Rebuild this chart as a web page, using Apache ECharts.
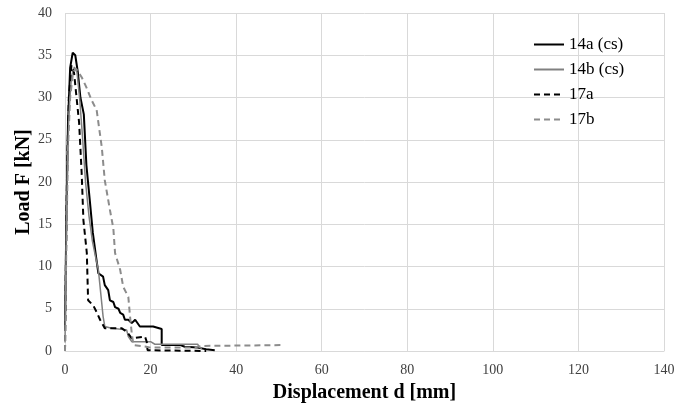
<!DOCTYPE html>
<html>
<head>
<meta charset="utf-8">
<script src="https://cdn.jsdelivr.net/npm/echarts@6/dist/echarts.min.js"></script>
<style>
  html, body { margin: 0; padding: 0; background: #fff; }
  #main { width: 675px; height: 408px; }
</style>
</head>
<body>
<div id="main"></div>
<script>
// series names
var names = ["14a (cs)", "14b (cs)", "17a", "17b"];

// displacement d [mm] / load F [kN]
var s14a = [[0,2.5],[0.3,15],[0.7,27],[1.2,33.5],[1.8,35.3],[2.4,35],[3,33],[3.6,30],[4.4,28],[5,22],[5.8,17.8],[6.5,14],[7.3,11],[7.8,9.2],[8.9,8.8],[9.3,7.8],[10.1,7.2],[10.5,6],[11.3,5.8],[11.7,5.2],[12.5,5],[12.9,4.5],[13.6,4.3],[14,3.7],[14.8,3.7],[15.6,3.3],[16.4,3.7],[17.5,2.9],[20.6,2.9],[22.6,2.6],[22.6,0.7],[27,0.7],[28,0.5],[31,0.4],[33,0.2],[35,0.1]];
var s14b = [[0,1],[0.4,18],[0.9,28],[1.5,32.5],[2.2,33.6],[2.8,33],[3.4,30],[4,26],[4.8,20],[5.6,16],[6.4,13],[7.2,11],[7.8,9.6],[8.9,4.1],[9.3,2.9],[10.9,2.7],[11,2.5],[14.4,2.5],[14.8,1.7],[15.6,1.1],[20,1.1],[21,0.8],[31,0.8],[31.5,0.4],[32,0.3]];
var s17a = [[0,0],[0.2,10],[0.5,22],[0.9,30],[1.5,33.8],[2.1,33],[2.7,30],[3.3,27],[3.9,21],[4.3,15.5],[5.1,11.6],[5.4,6],[6.6,5.4],[7.4,4.6],[8.2,3.7],[9.3,2.7],[9.5,2.5],[13.2,2.7],[14.4,2.3],[15.6,1.5],[18.7,1.7],[19.1,1.1],[19.3,0.1],[25,0.05],[33,0]];
var s17b = [[0,0],[0.3,12],[0.7,24],[1.2,30],[1.9,33],[2.6,33.4],[3.9,32.4],[5,31.2],[6.2,29.7],[7.4,28.5],[8.6,24.1],[9.3,20.2],[10.5,16.7],[11.3,14.5],[11.7,11.6],[12.9,9.6],[13.6,7.6],[14.8,6.4],[15.2,4.1],[15.6,2.1],[16,0.7],[19,0.5],[20,0.4],[30,0.4],[32,0.6],[51,0.7]];

var serif = "'Liberation Serif', 'DejaVu Serif', serif";
var myChart = echarts.init(document.getElementById("main"), null, { renderer: "canvas" });
var option;

function mk(name, data, color, width, type) {
  return {
    name: name,
    type: "line",
    data: data,
    symbol: "none",
    showSymbol: false,
    smooth: false,
    lineStyle: { color: color, width: width, type: type },
    itemStyle: { color: color },
    emphasis: { disabled: true },
  };
}

option = {
  animation: false,
  backgroundColor: "#fff",
  grid: { left: 65, right: 11, top: 13, bottom: 57, outerBoundsMode: "none", containLabel: false },
  legend: {
    orient: "vertical",
    left: 528,
    top: 31,
    itemWidth: 30,
    itemHeight: 14,
    itemGap: 8,
    data: names,
    itemStyle: { opacity: 0 },
    textStyle: { fontFamily: serif, fontSize: 17, color: "#000" },
  },
  xAxis: {
    type: "value",
    min: 0,
    max: 140,
    interval: 20,
    name: "Displacement d [mm]",
    nameLocation: "middle",
    nameGap: 32,
    nameMoveOverlap: false,
    nameTextStyle: { fontFamily: serif, fontSize: 20, fontWeight: "bold", color: "#000" },
    axisLine: { show: true, lineStyle: { color: "#d9d9d9" } },
    axisTick: { show: false },
    axisLabel: { fontFamily: serif, fontSize: 14, color: "#404040", margin: 12 },
    splitLine: { show: true, lineStyle: { color: "#d9d9d9" } },
  },
  yAxis: {
    type: "value",
    min: 0,
    max: 40,
    interval: 5,
    name: "Load F [kN]",
    nameLocation: "middle",
    nameGap: 31,
    nameMoveOverlap: false,
    nameTextStyle: { fontFamily: serif, fontSize: 20, fontWeight: "bold", color: "#000" },
    axisLine: { show: false },
    axisTick: { show: false },
    axisLabel: { fontFamily: serif, fontSize: 14, color: "#404040", margin: 13 },
    splitLine: { show: true, lineStyle: { color: "#d9d9d9" } },
  },
  series: [
    mk(names[0], s14a, "#000000", 2, "solid"),
    mk(names[1], s14b, "#808080", 1.5, "solid"),
    mk(names[2], s17a, "#000000", 2, [6, 4]),
    mk(names[3], s17b, "#8c8c8c", 2, [6, 4]),
  ],
};

option && myChart.setOption(option);
</script>
</body>
</html>
